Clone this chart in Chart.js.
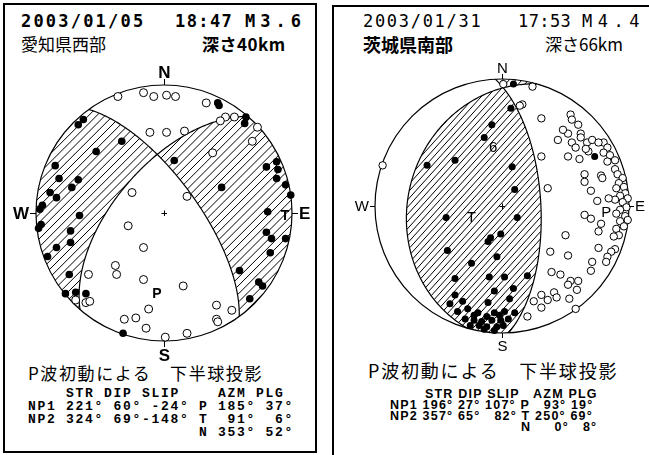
<!DOCTYPE html>
<html>
<head>
<meta charset="utf-8">
<script src="https://cdn.jsdelivr.net/npm/chart.js@4/dist/chart.umd.min.js"></script>
<style>
  body { margin: 0; width: 649px; height: 455px; overflow: hidden; background: #fff; position: relative; color: #000; }
  .box { position: absolute; border: 2px solid #000; box-sizing: border-box; }
  .t { position: absolute; white-space: pre; line-height: 1; }
  .mono { font-family: "DejaVu Sans Mono", monospace; font-size: 17px; }
  .jp { font-family: "Noto Sans CJK JP", sans-serif; }
  .wrap { position: absolute; }
  .tblL { font-family: "Liberation Mono", monospace; font-weight: bold; font-size: 13px; letter-spacing: 1.7px; line-height: 13px; }
  .tblR { font-family: "Liberation Sans", sans-serif; font-weight: bold; font-size: 12.5px; letter-spacing: 1.2px; }
</style>
</head>
<body>
<div class="box" style="left:3px;top:3px;width:314px;height:450px"></div>
<div class="box" style="left:332px;top:5px;width:340px;height:470px"></div>

<!-- left panel text -->
<div class="t mono" style="left:21px;top:13px;font-weight:bold;letter-spacing:2.2px">2003/01/05</div>
<div class="t mono" style="left:175px;top:13px;font-weight:bold;letter-spacing:1.4px">18:47</div>
<div class="t mono" style="left:245px;top:13px;font-weight:bold;letter-spacing:5px">M3.6</div>
<div class="t jp" style="left:21px;top:35px;font-size:17px">愛知県西部</div>
<div class="t jp" style="left:202px;top:35px;font-size:17px;font-weight:bold;letter-spacing:0.5px">深さ40km</div>
<div class="t jp" style="left:28px;top:364px;font-size:17px;letter-spacing:1.6px">P波初動による　下半球投影</div>
<div class="t tblL" id="tblLeft" style="left:28px;top:387px"></div>

<!-- right panel text -->
<div class="t mono" style="left:363px;top:13px;letter-spacing:1.7px">2003/01/31</div>
<div class="t mono" style="left:518px;top:13px;letter-spacing:0.4px">17:53</div>
<div class="t mono" style="left:582px;top:13px;letter-spacing:5.5px">M4.4</div>
<div class="t jp" style="left:363px;top:35px;font-size:18px;font-weight:bold">茨城県南部</div>
<div class="t jp" style="left:545px;top:35px;font-size:17px">深さ66km</div>
<div class="t jp" style="left:368px;top:361px;font-size:18px;letter-spacing:1.8px">P波初動による　下半球投影</div>
<div id="tblRight"></div>

<div class="wrap" style="left:6px;top:55px;width:316px;height:316px"><canvas id="leftChart"></canvas></div>
<div class="wrap" style="left:345px;top:49px;width:314px;height:314px"><canvas id="rightChart"></canvas></div>

<script>
// mechanism parameters
const leftStrike = [221, 324];
const leftDip = [60, 69];
const leftSlip = [-24, -148];
const leftAzm = [185, 91, 353];
const leftPlg = [37, 6, 52];

const rightStrike = [196, 357];
const rightDip = [27, 65];
const rightSlip = [107, 82];
const rightAzm = [93, 250, 0];
const rightPlg = [19, 69, 8];

const axisNames = ['P', 'T', 'N'];
const planeNames = ['NP1', 'NP2'];

// first motions, projected position (x = east, y = north, unit circle)
const leftUp = [
  [-0.67, 0.69], [-0.63, 0.73], [-0.33, 0.56], [-0.53, 0.48], [-0.85, 0.37], [-0.82, 0.27],
  [-0.67, 0.26], [-0.72, 0.20], [-0.89, 0.16], [-0.84, 0.12], [-0.95, 0.06], [-0.97, 0.03],
  [-0.96, -0.09], [-0.98, -0.12], [-0.66, -0.02], [-0.73, -0.14], [-0.73, -0.23], [-0.84, -0.27],
  [-0.91, -0.34], [-0.74, -0.48], [-0.77, -0.63], [-0.69, -0.62], [-0.61, -0.63], [-0.32, -0.94],
  [0.42, 0.86], [0.43, 0.84], [0.64, 0.75], [0.63, 0.70], [0.08, 0.41], [0.45, 0.20],
  [0.80, 0.36], [0.88, 0.40], [0.89, 0.34], [0.88, 0.27], [0.95, 0.22], [0.99, 0.14],
  [0.81, 0.01], [0.80, -0.15], [0.84, -0.20], [0.95, -0.20], [0.83, -0.31], [0.59, -0.45],
  [0.74, -0.54], [0.77, -0.57], [0.67, -0.67]
];
const leftDown = [
  [-0.36, 0.91], [-0.16, 0.94], [-0.08, 0.91], [0.02, 0.92], [0.09, 0.91], [0.33, 0.86],
  [0.48, 0.75], [0.55, 0.75], [0.44, 0.72], [0.73, 0.67], [0.69, 0.56], [-0.11, 0.63],
  [0.02, 0.63], [0.16, 0.64], [0.38, 0.47], [-0.25, 0.16], [0.18, 0.13], [-0.28, -0.10],
  [-0.16, -0.27], [-0.38, -0.41], [-0.37, -0.48], [-0.16, -0.52], [0.15, -0.57], [-0.59, -0.48],
  [-0.69, -0.68], [-0.61, -0.70], [-0.58, -0.69], [-0.12, -0.75], [-0.31, -0.83], [-0.22, -0.82],
  [-0.14, -0.90], [0.01, -0.97], [0.18, -0.94], [0.41, -0.72], [0.53, -0.76], [0.41, -0.83],
  [0.42, -0.85]
];

const rightUp = [
  [0.09, 0.96], [0.07, 0.77], [-0.08, 0.64], [-0.14, 0.54], [-0.37, 0.36], [-0.59, 0.32],
  [0.08, 0.31], [0.10, 0.13], [-0.44, -0.09], [0.12, -0.09], [-0.01, -0.22], [-0.09, -0.25],
  [-0.11, -0.28], [-0.43, -0.35], [-0.04, -0.40], [-0.24, -0.45], [-0.37, -0.57], [-0.10, -0.56],
  [0.02, -0.56], [0.20, -0.55], [-0.06, -0.67], [0.09, -0.65], [-0.37, -0.70], [-0.41, -0.77],
  [-0.31, -0.75], [-0.11, -0.76], [0.06, -0.73], [0.73, 0.39],
  [-0.35, -0.83], [-0.27, -0.81], [-0.19, -0.84], [-0.12, -0.87], [-0.06, -0.84], [0.02, -0.83],
  [0.10, -0.84], [-0.29, -0.89], [-0.22, -0.90], [-0.16, -0.91], [-0.08, -0.90], [-0.01, -0.90],
  [0.05, -0.89], [-0.25, -0.94], [-0.18, -0.94], [-0.12, -0.95], [-0.04, -0.95], [0.01, -0.94],
  [-0.14, -0.97], [-0.06, -0.98], [-0.22, -0.86], [-0.02, -0.86]
];
const rightDown = [
  [-0.94, 0.32], [0.24, 0.94], [0.01, 0.96], [0.16, 0.80], [0.14, 0.79], [0.31, 0.69],
  [0.54, 0.72], [0.55, 0.68], [0.60, 0.64], [0.52, 0.57], [0.62, 0.57], [0.44, 0.52],
  [0.55, 0.50], [0.67, 0.50], [0.71, 0.52], [0.58, 0.46], [0.80, 0.50], [0.83, 0.46],
  [0.80, 0.42], [0.85, 0.40], [0.52, 0.39], [0.61, 0.37], [0.31, 0.39], [0.68, 0.43],
  [0.76, 0.50], [0.89, 0.36], [0.83, 0.35], [0.89, 0.29], [0.91, 0.25], [0.95, 0.22],
  [0.92, 0.18], [0.96, 0.15], [0.90, 0.14], [0.97, 0.10], [0.93, 0.08], [0.99, 0.06],
  [0.89, 0.05], [0.84, 0.06], [0.95, 0.03], [0.98, -0.01], [0.93, -0.03], [0.90, -0.06],
  [0.97, -0.08], [0.99, -0.11], [0.93, -0.12], [0.96, -0.16], [0.90, -0.18], [0.92, -0.23],
  [0.88, -0.24], [0.89, -0.34], [0.86, -0.36], [0.83, -0.40], [0.82, -0.44], [0.78, 0.24],
  [0.65, 0.25], [0.70, 0.12], [0.75, 0.04], [0.65, -0.07], [0.70, -0.10], [0.78, -0.14],
  [0.76, -0.20], [0.36, 0.14], [0.50, -0.23], [0.38, -0.36], [0.52, -0.39], [0.76, -0.33],
  [0.71, -0.44], [0.70, -0.51], [0.39, -0.52], [0.46, -0.54], [0.54, -0.59], [0.60, -0.59],
  [0.59, -0.66], [0.52, -0.62], [0.41, -0.68], [0.31, -0.70], [0.36, -0.74], [0.25, -0.75],
  [0.31, -0.80], [0.20, -0.87], [0.43, -0.72], [0.53, -0.73], [0.58, -0.81], [0.65, 0.19],
  [0.79, 0.22], [0.48, 0.60], [0.62, 0.54], [0.66, 0.45]
];
const rightNotes = [{ text: '6', x: -0.07, y: 0.46 }];

// tables built from the parameter arrays
const pad = (v, n) => String(v).padStart(n, ' ');
const padP = (v, n) => '  '.repeat(Math.max(0, n - String(v).length)) + v;

function leftTable() {
  const rows = ['    STR DIP SLIP    AZM PLG'];
  for (let i = 0; i < 3; i++) {
    const head = i < 2
      ? planeNames[i] + pad(leftStrike[i], 4) + '°' + pad(leftDip[i], 3) + '°' + pad(leftSlip[i], 4) + '°'
      : ' '.repeat(17);
    rows.push(head + ' ' + axisNames[i] + pad(leftAzm[i], 4) + '°' + pad(leftPlg[i], 3) + '°');
  }
  document.getElementById('tblLeft').textContent = rows.join('\n');
}

function rightTable() {
  const host = document.getElementById('tblRight');
  const row = (txt, x, y) => {
    const d = document.createElement('div');
    d.className = 't tblR';
    d.textContent = txt;
    d.style.left = x + 'px';
    d.style.top = y + 'px';
    host.appendChild(d);
  };
  const rowsY = [388, 399, 410, 421];
  row('STR DIP SLIP   AZM PLG', 425, rowsY[0]);
  for (let i = 0; i < 3; i++) {
    const tail = axisNames[i] + ' ' + padP(rightAzm[i], 3) + '° ' + padP(rightPlg[i], 2) + '°';
    if (i < 2) {
      row(planeNames[i] + ' ' + padP(rightStrike[i], 3) + '° ' + padP(rightDip[i], 2) + '° ' +
        padP(rightSlip[i], 3) + '° ' + tail, 390, rowsY[i + 1]);
    } else {
      row(tail, 521, rowsY[i + 1]);
    }
  }
}
leftTable();
rightTable();

// geometry helpers (lower hemisphere, equal area)
const rad = d => d * Math.PI / 180;
const dot = (a, b) => a[0] * b[0] + a[1] * b[1] + a[2] * b[2];
function planeNormal(st, dp) {
  const s = rad(st), d = rad(dp);
  return [-Math.sin(d) * Math.sin(s), Math.sin(d) * Math.cos(s), -Math.cos(d)];
}
function axisVec(az, pl) {
  const a = rad(az), p = rad(pl);
  return [Math.cos(p) * Math.cos(a), Math.cos(p) * Math.sin(a), Math.sin(p)];
}
function project(v) {
  const f = 1 / Math.sqrt(1 + v[2]);
  return [v[1] * f, v[0] * f];
}

const beachball = {
  id: 'beachball',
  beforeDatasetsDraw(chart, args, o) {
    const { ctx, scales: { x, y } } = chart;
    const cx = x.getPixelForValue(0), cy = y.getPixelForValue(0);
    const R = x.getPixelForValue(1) - cx;
    const n1 = planeNormal(o.strike[0], o.dip[0]);
    const n2 = planeNormal(o.strike[1], o.dip[1]);
    const t = axisVec(o.azm[1], o.plg[1]);
    const sgn = Math.sign(dot(t, n1) * dot(t, n2));
    const isComp = (X, Y) => {
      const ex = (X - cx) / R, ny = (cy - Y) / R, r2 = ex * ex + ny * ny;
      if (r2 > 1) return false;
      const k = Math.sqrt(2 - r2);
      const v = [ny * k, ex * k, 1 - r2];
      return Math.sign(dot(v, n1) * dot(v, n2)) === sgn;
    };

    ctx.save();
    ctx.strokeStyle = '#000';
    // hatching of the compressional quadrants
    ctx.lineWidth = o.hatchWidth;
    ctx.beginPath();
    const a = rad(o.hatchAngle);
    const dx = Math.cos(a), dy = -Math.sin(a), px = Math.sin(a), py = Math.cos(a);
    for (let k = -R; k <= R; k += o.hatchGap) {
      let on = false, lx = 0, ly = 0;
      for (let s = -R; s <= R; s += 0.5) {
        const X = cx + k * px + s * dx, Y = cy + k * py + s * dy;
        const c = isComp(X, Y);
        if (c && !on) { ctx.moveTo(X, Y); on = true; }
        if (!c && on) { ctx.lineTo(lx, ly); on = false; }
        lx = X; ly = Y;
      }
      if (on) ctx.lineTo(lx, ly);
    }
    ctx.stroke();

    // focal sphere
    ctx.lineWidth = o.lineWidth;
    ctx.beginPath();
    ctx.arc(cx, cy, R, 0, 2 * Math.PI);
    ctx.stroke();

    // nodal planes
    for (let i = 0; i < 2; i++) {
      const s = rad(o.strike[i]), d = rad(o.dip[i]);
      const sv = [Math.cos(s), Math.sin(s), 0];
      const dv = [-Math.sin(s) * Math.cos(d), Math.cos(s) * Math.cos(d), Math.sin(d)];
      ctx.beginPath();
      for (let l = 0; l <= 180; l += 1) {
        const c = Math.cos(rad(l)), sn = Math.sin(rad(l));
        const p = project([c * sv[0] + sn * dv[0], c * sv[1] + sn * dv[1], c * sv[2] + sn * dv[2]]);
        const X = cx + p[0] * R, Y = cy - p[1] * R;
        if (l === 0) ctx.moveTo(X, Y); else ctx.lineTo(X, Y);
      }
      ctx.stroke();
    }
    ctx.restore();
  },
  afterDatasetsDraw(chart, args, o) {
    const { ctx, scales: { x, y } } = chart;
    const cx = x.getPixelForValue(0), cy = y.getPixelForValue(0);
    const R = x.getPixelForValue(1) - cx;
    const tk = o.tick;
    ctx.save();
    ctx.strokeStyle = '#000';
    ctx.fillStyle = '#000';
    ctx.lineWidth = 1;
    ctx.beginPath();
    ctx.moveTo(cx + 0.5, cy - R); ctx.lineTo(cx + 0.5, cy - R - tk);
    ctx.moveTo(cx + 0.5, cy + R); ctx.lineTo(cx + 0.5, cy + R + tk);
    ctx.moveTo(cx - R, cy + 0.5); ctx.lineTo(cx - R - tk, cy + 0.5);
    ctx.moveTo(cx + R, cy + 0.5); ctx.lineTo(cx + R + tk, cy + 0.5);
    // centre mark
    ctx.moveTo(cx - 2.5, cy + 0.5); ctx.lineTo(cx + 3, cy + 0.5);
    ctx.moveTo(cx + 0.5, cy - 2.5); ctx.lineTo(cx + 0.5, cy + 3);
    ctx.stroke();

    ctx.font = o.dirFont;
    ctx.textAlign = 'center';
    ctx.textBaseline = 'alphabetic';
    ctx.fillText('N', cx + 0.5, cy - R - tk - 1);
    ctx.textBaseline = 'top';
    ctx.fillText('S', cx + 0.5, cy + R + tk + 1);
    ctx.textBaseline = 'middle';
    ctx.textAlign = 'right';
    ctx.fillText('W', cx - R - tk - 1, cy + 1);
    ctx.textAlign = 'left';
    ctx.fillText('E', cx + R + tk + 1, cy + 1);

    ctx.font = o.axisFont;
    ctx.textAlign = 'center';
    for (let i = 0; i < 2; i++) {
      const p = project(axisVec(o.azm[i], o.plg[i]));
      ctx.fillText(axisNames[i], cx + p[0] * R, cy - p[1] * R + 1);
    }
    (o.notes || []).forEach(n => ctx.fillText(n.text, x.getPixelForValue(n.x), y.getPixelForValue(n.y)));
    ctx.restore();
  }
};

function makeChart(id, up, down, mech) {
  const toXY = arr => arr.map(([px, py]) => ({ x: px, y: py }));
  return new Chart(document.getElementById(id), {
    type: 'scatter',
    data: {
      datasets: [
        { label: 'dilatation', data: toXY(down), pointRadius: mech.openR, pointBackgroundColor: '#fff',
          pointBorderColor: '#000', pointBorderWidth: 1, clip: false },
        { label: 'compression', data: toXY(up), pointRadius: mech.fillR, pointBackgroundColor: '#000',
          pointBorderColor: '#000', pointBorderWidth: 0, clip: false }
      ]
    },
    options: {
      responsive: true,
      maintainAspectRatio: false,
      animation: false,
      events: [],
      layout: { padding: 30 },
      scales: {
        x: { type: 'linear', min: -1, max: 1, display: false },
        y: { type: 'linear', min: -1, max: 1, display: false }
      },
      plugins: {
        legend: { display: false },
        tooltip: { enabled: false },
        beachball: mech
      }
    },
    plugins: [beachball]
  });
}

makeChart('leftChart', leftUp, leftDown, {
  strike: leftStrike, dip: leftDip, azm: leftAzm, plg: leftPlg,
  hatchAngle: 45, hatchGap: 5.8, hatchWidth: 1, lineWidth: 1.2, tick: 6,
  dirFont: 'bold 17px "Liberation Sans"', axisFont: 'bold 14px "Liberation Sans"',
  openR: 4, fillR: 3.8
});
makeChart('rightChart', rightUp, rightDown, {
  strike: rightStrike, dip: rightDip, azm: rightAzm, plg: rightPlg,
  hatchAngle: 48, hatchGap: 4.8, hatchWidth: 1, lineWidth: 1.2, tick: 5,
  dirFont: '15px "Liberation Sans"', axisFont: '15px "Liberation Sans"',
  openR: 3.7, fillR: 3.5, notes: rightNotes
});
</script>
</body>
</html>
